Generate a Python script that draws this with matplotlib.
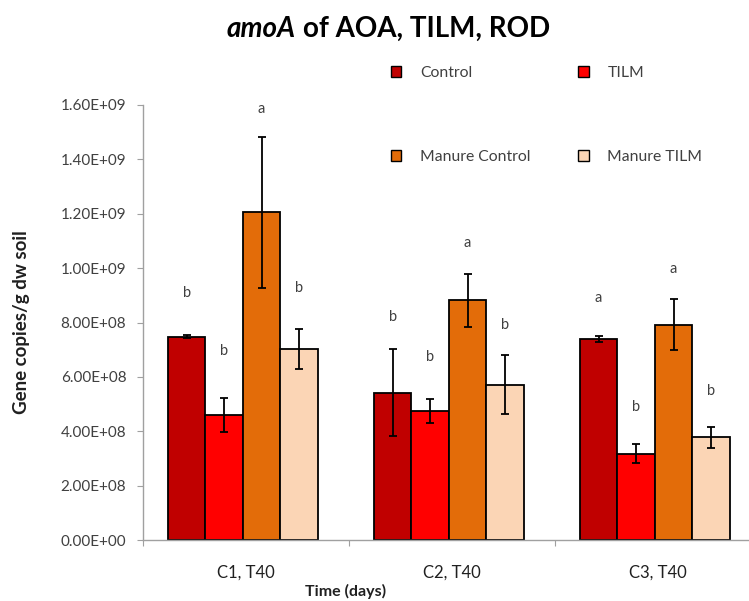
import matplotlib
matplotlib.use("Agg")
import matplotlib.pyplot as plt
from matplotlib.patches import Patch
import numpy as np

plt.rcParams['font.family'] = ['Lato', 'DejaVu Sans']

categories = ["C1, T40", "C2, T40", "C3, T40"]
series = ["Control", "TILM", "Manure Control", "Manure TILM"]
colors = ["#C00000", "#FF0000", "#E36C09", "#FBD5B5"]

control = [7.48e8, 5.41e8, 7.40e8]
tilm = [4.59e8, 4.73e8, 3.18e8]
manure_control = [1.205e9, 8.82e8, 7.92e8]
manure_tilm = [7.03e8, 5.71e8, 3.78e8]

control_err = [0.6e7, 1.60e8, 1.0e7]
tilm_err = [6.3e7, 4.4e7, 3.4e7]
manure_control_err = [2.78e8, 9.7e7, 9.3e7]
manure_tilm_err = [7.3e7, 1.08e8, 3.8e7]

letters = [["b", "b", "a"], ["b", "b", "b"], ["a", "a", "a"], ["b", "b", "b"]]
letter_y = [[9.1e8, 8.2e8, 8.9e8],
            [6.95e8, 6.74e8, 4.88e8],
            [1.587e9, 1.092e9, 9.96e8],
            [9.26e8, 7.9e8, 5.47e8]]

yticks = [0, 2e8, 4e8, 6e8, 8e8, 1.0e9, 1.2e9, 1.4e9, 1.6e9]
ytick_labels = ["0.00E+00", "2.00E+08", "4.00E+08", "6.00E+08", "8.00E+08",
                "1.00E+09", "1.20E+09", "1.40E+09", "1.60E+09"]

values = [control, tilm, manure_control, manure_tilm]
errors = [control_err, tilm_err, manure_control_err, manure_tilm_err]

fig = plt.figure(figsize=(7.49, 6.01), dpi=100)
ax = fig.add_axes([143/749, 1-540/601, 618/749, 435/601])

bw = 0.182
centers = np.arange(len(categories)) + 0.485
for k in range(4):
    xs = centers + (k - 1.5) * bw
    ax.bar(xs, values[k], width=bw, color=colors[k], edgecolor="black",
           linewidth=1.3, label=series[k], zorder=2)
    ax.errorbar(xs, values[k], yerr=errors[k], fmt="none", ecolor="black",
                elinewidth=1.3, capsize=3, capthick=1.3, zorder=3)
    for i in range(3):
        ax.text(xs[i], letter_y[k][i], letters[k][i], ha="center", va="center",
                fontsize=10.5, color="#404040")

ax.set_xlim(0, 3)
ax.set_ylim(0, 1.6e9)
ax.set_yticks(yticks)
ax.set_yticklabels(ytick_labels, fontsize=11, color="#404040")
ax.set_xticks([0, 1, 2, 3])
ax.set_xticklabels([])
ax.set_xticks(np.arange(3) + 0.5, minor=True)
ax.set_xticklabels(categories, minor=True, fontsize=12, color="#202020")
ax.tick_params(axis="x", which="minor", length=0, pad=18)
ax.tick_params(axis="x", which="major", length=4, color="#A0A0A0", direction="out")
ax.tick_params(axis="y", length=4, color="#A0A0A0", direction="out", pad=8)
for s in ["top", "right"]:
    ax.spines[s].set_visible(False)
for s in ["left", "bottom"]:
    ax.spines[s].set_color("#A0A0A0")
    ax.spines[s].set_linewidth(1.0)

ax.set_ylabel("Gene copies/g dw soil", fontsize=13.5, fontweight="bold",
              color="#202020", labelpad=22)
fig.text(346/749, 1-591/601, "Time (days)", ha="center", va="center",
         fontsize=11.5, fontweight="bold", color="#202020")

title_it = fig.text(227/749, 1-29/601, "amoA", ha="left", va="center",
                    fontsize=20, fontweight="bold", style="italic", color="black")
fig.canvas.draw()
bb = title_it.get_window_extent()
fig.text(bb.x1/749 + 7/749, 1-29/601, "of AOA, TILM, ROD", ha="left", va="center",
         fontsize=20, fontweight="bold", color="black")

handles = [Patch(facecolor=colors[k], edgecolor="black", linewidth=1.0) for k in range(4)]
order = [0, 2, 1, 3]
leg = fig.legend([handles[k] for k in order], [series[k] for k in order],
                 ncol=2, loc="upper left", bbox_to_anchor=(391/749, 1-66/601),
                 frameon=False, fontsize=11.3, handlelength=0.65, handleheight=0.65,
                 handletextpad=1.2, labelspacing=4.45, columnspacing=3.05,
                 labelcolor="#404040", borderaxespad=0, borderpad=0)

fig.savefig("out.png", dpi=100)
